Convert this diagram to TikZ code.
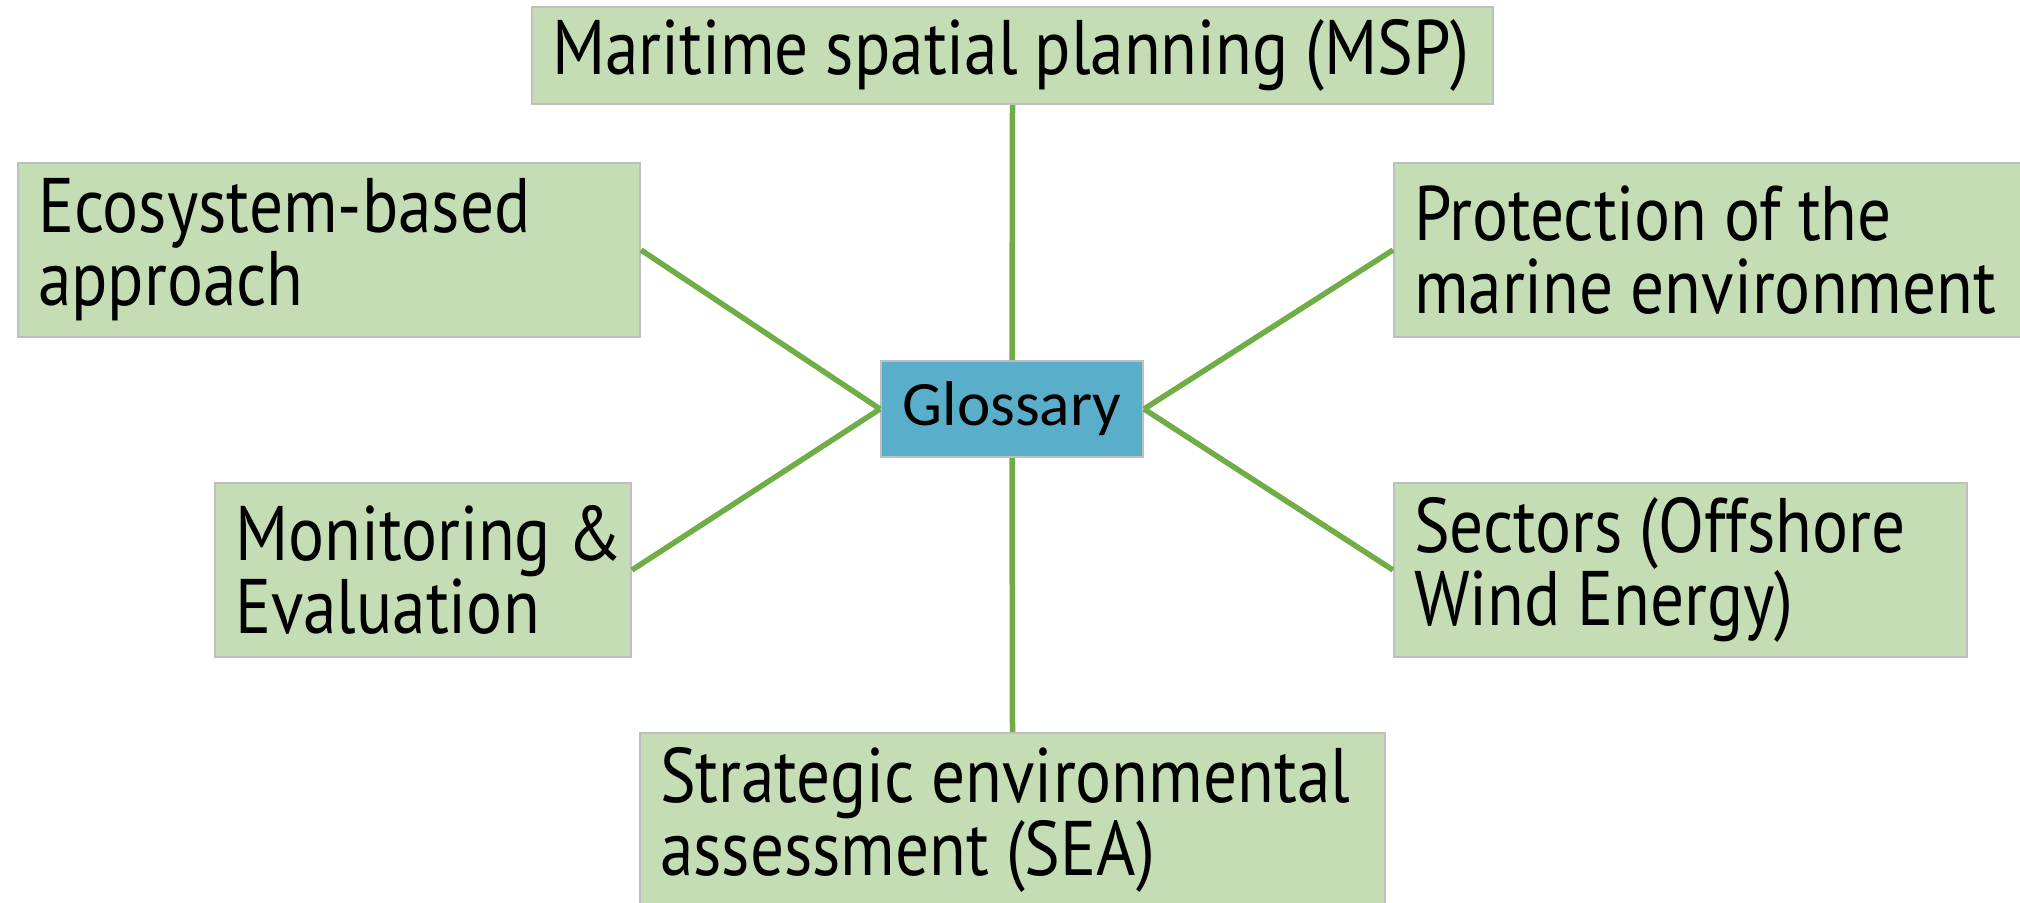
\documentclass[tikz,border=0pt]{standalone}
\usepackage{fontspec}
\setmainfont{PT Sans}[FakeStretch=0.87]
\newfontfamily\glossfont{Carlito}
\usepackage{tikz}
\usetikzlibrary{positioning}
\definecolor{termgreen}{HTML}{C5DDB5}
\definecolor{termline}{HTML}{BFBFBF}
\definecolor{glossblue}{HTML}{59AFCA}
\definecolor{linkgreen}{HTML}{70AD47}
\DeclareRobustCommand\termfont{\fontsize{22}{20.8}\selectfont}

\begin{document}
\begin{tikzpicture}[x=0.1mm,y=-0.1mm,
	term/.style={shape=rectangle,draw=termline,fill=termgreen,line width=0.2mm,anchor=north west,
		inner xsep=2mm,inner ysep=0pt,align=left,minimum height=17.4mm,font=\termfont,
		execute at begin node={\spaceskip=4.8pt\relax}},
	link/.style={draw=linkgreen,line width=0.55mm}]
			\useasboundingbox (0,0) rectangle (2020,902);
			\clip (0,0) rectangle (2020,902);
			\node[shape=rectangle,draw=termline,fill=glossblue,line width=0.2mm,minimum width=26.2mm,minimum height=9.6mm,font=\glossfont\fontsize{18}{20}\selectfont] (gl) at (1012,409) {Glossary};
			\node[term,text width=92.1mm,minimum height=9.7mm] (msp) at (531,6) {\mbox{Maritime spatial planning (MSP)}};
			\node[term,text width=58.2mm] (eco) at (17,162) {\mbox{Ecosystem-based}\\\mbox{approach}};
			\node[term,text width=61mm] (prot) at (1393,162) {\mbox{Protection of the}\\\mbox{marine environment}};
			\node[term,text width=37.6mm] (mon) at (214,482) {\mbox{Monitoring \&}\\\mbox{Evaluation}};
			\node[term,text width=53.3mm] (sec) at (1393,482) {\mbox{Sectors (Offshore}\\\mbox{Wind Energy)}};
			\node[term,text width=70.5mm] (sea) at (639,732) {\mbox{Strategic environmental}\\\mbox{assessment (SEA)}};
			\path[-, link](gl.north) edge (msp.south);
			\path[-, link](gl.west) edge (eco.east);
			\path[-, link](gl.west) edge (mon.east);
			\path[-, link](gl.east) edge (prot.west);
			\path[-, link](gl.east) edge (sec.west);
			\path[-, link](gl.south) edge (sea.north);
\end{tikzpicture}
\end{document}
